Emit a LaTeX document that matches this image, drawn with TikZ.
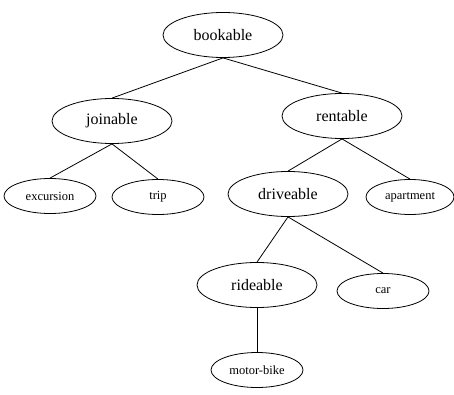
\documentclass[tikz,border=0pt]{standalone}
\usepackage{fontspec}
\setmainfont{Liberation Serif}
\usetikzlibrary{shapes.geometric}
\tikzset{
  big/.style={draw, ellipse, inner sep=0pt, minimum width=120pt, minimum height=45pt, font=\fontsize{16}{18}\selectfont, line width=0.8pt},
  small/.style={draw, ellipse, inner sep=0pt, minimum width=92pt, minimum height=35pt, font=\fontsize{12.5}{14}\selectfont, line width=0.8pt},
  edge/.style={line width=0.8pt}
}
\begin{document}
\begin{tikzpicture}[x=1pt,y=-1pt]
\useasboundingbox (0,0) rectangle (454,395);
\node[big] (bookable) at (223,35) {bookable};
\node[big] (joinable) at (112,121) {joinable};
\node[big] (rentable) at (342,116) {rentable};
\node[small] (excursion) at (50,196) {excursion};
\node[small] (trip) at (158,197) {trip};
\node[big] (driveable) at (288,194) {driveable};
\node[small, minimum width=88pt] (apartment) at (410,197) {apartment};
\node[big] (rideable) at (257,285) {rideable};
\node[small] (car) at (383,291) {car};
\node[small] (motorbike) at (257,370) {motor-bike};
\draw[edge] (bookable.south) -- (joinable.north);
\draw[edge] (bookable.south) -- (rentable.north);
\draw[edge] (joinable.south) -- (excursion.north);
\draw[edge] (joinable.south) -- (trip.north);
\draw[edge] (rentable.south) -- (driveable.north);
\draw[edge] (rentable.south) -- (apartment.north);
\draw[edge] (driveable.south) -- (rideable.north);
\draw[edge] (driveable.south) -- (car.north);
\draw[edge] (rideable.south) -- (motorbike.north);
\end{tikzpicture}
\end{document}
